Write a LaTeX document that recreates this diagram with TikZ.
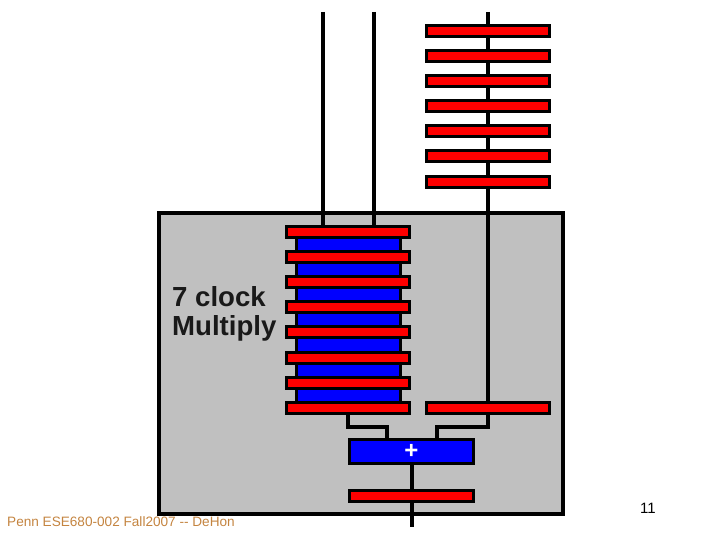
\documentclass[tikz,border=0pt]{standalone}
\usepackage{fontspec}
\setmainfont{Liberation Sans}
\definecolor{boxgray}{RGB}{192,192,192}
\definecolor{barred}{RGB}{255,0,0}
\definecolor{barblue}{RGB}{0,0,255}
\definecolor{footcol}{RGB}{196,132,64}
\tikzset{
  rbar/.style={draw=black, fill=barred, line width=3pt, minimum width=123pt, minimum height=11pt, inner sep=0pt},
  bblk/.style={draw=black, fill=barblue, line width=3pt, inner sep=0pt},
  wire/.style={draw=black, line width=4pt},
  lbl/.style={anchor=base west, inner sep=0pt, font=\bfseries\fontsize{27.6}{29}\selectfont, text=black!90},
}
\begin{document}
\begin{tikzpicture}[x=1pt,y=-1pt]
\useasboundingbox (0,0) rectangle (720,540);
% big gray box
\node[draw=black, fill=boxgray, line width=3.5pt, minimum width=404pt, minimum height=301pt, inner sep=0pt] (box) at (361,363.5) {};
% label
\node[lbl] (lbl1) at (172,306) {7 clock};
\node[lbl] (lbl2) at (172,335) {Multiply};
% coordinates for wire ends
\coordinate (a1) at (323,12);
\coordinate (b1) at (374,12);
\coordinate (c1) at (488,12);
\coordinate (jl) at (387,427);
\coordinate (jr) at (437,427);
\coordinate (out) at (411.5,527);
% right bottom bar and wire through top stack
\node[rbar] (R) at (487.5,408) {};
\draw[wire] (c1) -- (R.north -| c1);
% top right stack
\foreach \i in {1,...,7}{
  \node[rbar] (T\i) at (487.5,{31+25.1*(\i-1)}) {};
}
% blue core of multiplier
\node[bblk, minimum width=104pt, minimum height=172pt] (core) at (348,320) {};
% left stack
\foreach \i in {1,...,8}{
  \node[rbar] (L\i) at (348,{232+25.1*(\i-1)}) {};
}
\draw[wire] (a1) -- (a1 |- L1.north);
\draw[wire] (b1) -- (b1 |- L1.north);
% adder
\node[bblk, minimum width=124pt, minimum height=24pt, text=white, font=\bfseries\fontsize{24}{24}\selectfont] (add) at (411.5,451.5) {+};
% output register
\node[rbar, minimum width=124pt] (B) at (411.5,496) {};
% wires into adder
\draw[wire, line width=3.5pt] (L8.south) |- (jl) -- (jl |- add.north);
\draw[wire, line width=3.5pt] (R.south -| c1) |- (jr) -- (jr |- add.north);
\draw[wire] (add.south) -- (B.north);
\draw[wire] (B.south) -- (out);
% footer
\node[anchor=base west, inner sep=0pt, text=footcol, font=\fontsize{13.6}{15}\selectfont] (foot) at (7,526) {Penn ESE680-002 Fall2007 {-}{-} DeHon};
\node[anchor=base, inner sep=0pt, font=\fontsize{15}{17}\selectfont] (pg) at (648,513) {11};
\end{tikzpicture}
\end{document}
